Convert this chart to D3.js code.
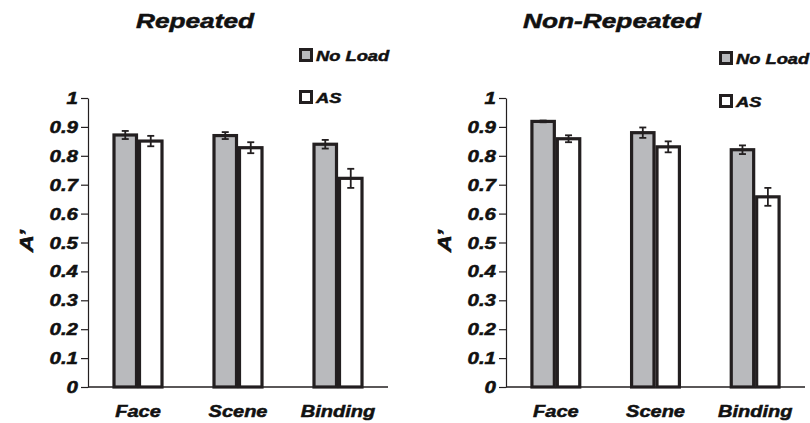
<!DOCTYPE html>
<html>
<head>
<meta charset="utf-8">
<script src="https://cdn.jsdelivr.net/npm/d3@7"></script>
<style>
  body { margin: 0; background: #fff; }
  text { font-family: "Liberation Sans", Arial, sans-serif; font-weight: bold; font-style: italic; fill: #111; stroke: #111; stroke-width: 0.5px; }
</style>
</head>
<body>
<div id="container"></div>
<script>
var categories = ['Face', 'Scene', 'Binding'];
var series = ['No Load', 'AS'];
var yTicks = [0, 0.1, 0.2, 0.3, 0.4, 0.5, 0.6, 0.7, 0.8, 0.9, 1];

// Repeated
var repNoLoad = [0.872, 0.870, 0.840];
var repNoLoadErr = [0.014, 0.012, 0.015];
var repAS = [0.851, 0.828, 0.722];
var repASErr = [0.018, 0.019, 0.033];

// Non-Repeated
var nonNoLoad = [0.919, 0.880, 0.821];
var nonNoLoadErr = [0.003, 0.018, 0.015];
var nonAS = [0.859, 0.831, 0.658];
var nonASErr = [0.012, 0.019, 0.031];

var colors = { 'No Load': '#b9babd', 'AS': '#ffffff' };
var ink = '#231f20';

var svgWidth = 810, svgHeight = 423;
var svg = d3.select('#container').append('svg')
    .attr('width', svgWidth).attr('height', svgHeight)
    .style('background-color', 'white');

// stretched text helper (reference text is horizontally wide)
function label(parent, x, y, str, size, sx, anchor, rot) {
  var t = parent.append('g')
      .attr('transform', 'translate(' + x + ',' + y + ')' + (rot ? ' rotate(' + rot + ')' : '') + ' scale(' + sx + ',1)')
    .append('text')
      .attr('text-anchor', anchor || 'start')
      .style('font-size', size + 'px')
      .text(str);
  return t;
}

var panels = [
  { title: 'Repeated', left: 88, right: 388, titleX: 195, legX: 299, legY: [55, 97],
    vals: [repNoLoad, repAS], errs: [repNoLoadErr, repASErr], ylabX: 33 },
  { title: 'Non-Repeated', left: 506, right: 805, titleX: 612, legX: 719, legY: [58, 101],
    vals: [nonNoLoad, nonAS], errs: [nonNoLoadErr, nonASErr], ylabX: 451 }
];

var y = d3.scaleLinear().domain([0, 1]).range([387, 98]);
var fmt = function(d) { return d === 0 || d === 1 ? String(d) : d3.format('.1f')(d); };

panels.forEach(function(p) {
  var x0 = d3.scaleBand().domain(categories).range([p.left, p.right])
      .paddingInner(0.49).paddingOuter(0.245);
  var x1 = d3.scaleBand().domain(series).range([0, x0.bandwidth()]);

  var g = svg.append('g');

  // y axis
  var yAxis = g.append('g').attr('transform', 'translate(' + p.left + ',0)')
      .call(d3.axisLeft(y).tickValues(yTicks).tickSize(7).tickSizeOuter(0).tickFormat(fmt));
  yAxis.select('.domain').attr('stroke', ink).attr('stroke-width', 1.2);
  yAxis.selectAll('.tick line').attr('stroke', ink).attr('stroke-width', 1.2);
  yAxis.selectAll('.tick text').remove();
  yTicks.forEach(function(t) {
    label(g, p.left - 10, y(t) + 6, fmt(t), 16, 1.28, 'end');
  });

  // bars
  series.forEach(function(s, si) {
    var vals = p.vals[si], errs = p.errs[si];
    g.selectAll('.bar-' + si).data(categories).enter().append('rect')
      .attr('x', function(d) { return x0(d) + x1(s) + 1.5; })
      .attr('y', function(d, i) { return y(vals[i]); })
      .attr('width', x1.bandwidth() - 3)
      .attr('height', function(d, i) { return y(0) - y(vals[i]); })
      .attr('fill', colors[s])
      .attr('stroke', ink)
      .attr('stroke-width', 3.2);

    categories.forEach(function(c, i) {
      var cx = x0(c) + x1(s) + x1.bandwidth() / 2;
      var top = y(vals[i] + errs[i]), bot = y(vals[i] - errs[i]);
      g.append('line').attr('x1', cx).attr('x2', cx).attr('y1', top).attr('y2', bot)
        .attr('stroke', ink).attr('stroke-width', 1.8);
      [top, bot].forEach(function(yy) {
        g.append('line').attr('x1', cx - 3.5).attr('x2', cx + 3.5).attr('y1', yy).attr('y2', yy)
          .attr('stroke', ink).attr('stroke-width', 1.8);
      });
    });
  });

  // x axis
  g.append('line').attr('x1', p.left).attr('x2', p.right).attr('y1', y(0)).attr('y2', y(0))
    .attr('stroke', ink).attr('stroke-width', 1.6);

  categories.forEach(function(c) {
    label(g, x0(c) + x0.bandwidth() / 2, 417, c, 16, 1.25, 'middle');
  });

  // title
  label(g, p.titleX, 28, p.title, 21, 1.25, 'middle');

  // y label
  label(g, p.ylabX, 241, 'A\u2019', 19, 1.25, 'middle', -90);

  // legend
  series.forEach(function(s, si) {
    var ly = p.legY[si];
    g.append('rect').attr('x', p.legX + 1.5).attr('y', ly - 5.5).attr('width', 11).attr('height', 11)
      .attr('fill', colors[s]).attr('stroke', ink).attr('stroke-width', 3);
    label(g, p.legX + 17, ly + 5.5, s, 15, 1.22, 'start');
  });
});
</script>
</body>
</html>
